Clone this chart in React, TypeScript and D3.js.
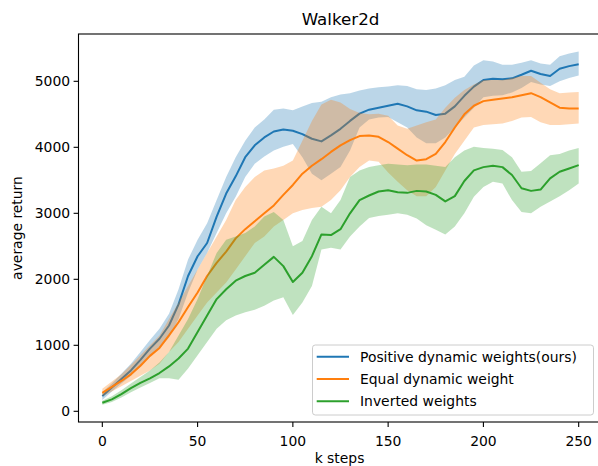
import React from 'react';
import * as d3 from 'd3';

// canvas
const width = 598;
const height = 466;

// plot box (pixels)
const plotLeft = 78.5;
const plotRight = 602.5;
const plotTop = 34;
const plotBottom = 422;

// data: k steps every 5
const steps = [
  0, 5, 10, 15, 20, 25, 30, 35, 40, 45, 50, 55, 60, 65, 70, 75, 80, 85, 90, 95,
  100, 105, 110, 115, 120, 125, 130, 135, 140, 145, 150, 155, 160, 165, 170, 175,
  180, 185, 190, 195, 200, 205, 210, 215, 220, 225, 230, 235, 240, 245, 250,
];

// Positive dynamic weights (ours)
const blueMean = [
  230, 360, 490, 620, 780, 950, 1100, 1300, 1620, 2050, 2350, 2550, 2950, 3300, 3560, 3850,
  4030, 4150, 4240, 4270, 4250, 4200, 4130, 4090, 4180, 4280, 4400, 4510, 4570, 4600, 4630,
  4660, 4620, 4560, 4540, 4490, 4510, 4620, 4780, 4920, 5020, 5040, 5030, 5045, 5100, 5160,
  5110, 5080, 5190, 5230, 5260,
];
const blueLow = [
  170, 300, 420, 540, 680, 830, 960, 1120, 1400, 1800, 2150, 2400, 2700, 3000, 3250, 3550,
  3750, 3860, 3950, 4010, 4050, 3850, 3600, 3500, 3600, 3700, 3950, 4300, 4420, 4450, 4460,
  4380, 4300, 4150, 4060, 4060, 4150, 4300, 4450, 4600, 4760, 4780, 4790, 4830, 4900, 4990,
  4950, 4930, 5000, 5050, 5090,
];
const blueHigh = [
  290, 420, 570, 720, 900, 1080, 1250, 1480, 1850, 2300, 2600, 2850, 3200, 3550, 3850, 4100,
  4300, 4420, 4570, 4590, 4560, 4620, 4670, 4690, 4760, 4800, 4820, 4860, 4890, 4910, 4920,
  4940, 4930, 4880, 4870, 4890, 4940, 5020, 5070, 5240, 5320, 5300, 5250, 5250, 5280, 5320,
  5270, 5250, 5380, 5420, 5450,
];

// Equal dynamic weight
const orangeMean = [
  280, 370, 460, 560, 690, 840, 960, 1150, 1350, 1580, 1800, 2050, 2250, 2420, 2620, 2760,
  2880, 3000, 3120, 3280, 3430, 3600, 3720, 3820, 3930, 4030, 4110, 4170, 4180, 4160, 4080,
  3980, 3880, 3800, 3820, 3900, 4080, 4300, 4500, 4630, 4700, 4720, 4740, 4760, 4790, 4820,
  4760, 4680, 4600, 4590, 4590,
];
const orangeLow = [
  230, 300, 380, 460, 540, 620, 720, 900, 1050, 1250, 1450, 1650, 1800, 1950, 2150, 2350,
  2550, 2650, 2800, 2900, 3000, 3050, 3080, 3100, 3200, 3350, 3550, 3700, 3800, 3780, 3620,
  3480, 3350, 3260, 3260, 3400, 3650, 3900, 4100, 4300, 4340, 4350, 4360, 4400, 4450, 4460,
  4380, 4340, 4340, 4350, 4360,
];
const orangeHigh = [
  340, 450, 560, 700, 850, 1000, 1150, 1400, 1650, 1900, 2150, 2400, 2650, 2900, 3200, 3400,
  3550, 3650, 3680, 3720, 3800, 4100, 4400, 4650, 4720, 4680, 4580, 4520, 4500, 4510, 4480,
  4330, 4280, 4330, 4380, 4420, 4600, 4750, 4870, 4950, 5020, 5020, 5020, 5050, 5080, 5080,
  4980, 4880, 4820, 4830, 4840,
];

// Inverted weights
const greenMean = [
  130, 180, 260, 350, 430, 500, 580, 680, 800, 950, 1200, 1450, 1700, 1850, 1980, 2050,
  2100, 2220, 2340, 2200, 1960, 2100, 2350, 2680, 2670, 2760, 3000, 3200, 3270, 3330, 3350,
  3320, 3310, 3340, 3330, 3280, 3180, 3260, 3490, 3650, 3700, 3720, 3700, 3580, 3380, 3340,
  3360, 3530, 3630, 3680, 3730,
];
const greenLow = [
  100, 140, 210, 290, 360, 430, 500, 500, 480, 650, 850, 1050, 1250, 1380, 1450, 1500,
  1540, 1600, 1680, 1730, 1460, 1650, 1900, 2450, 2480, 2450, 2650, 2800, 2930, 2960, 2980,
  3000, 2980, 2920, 2820, 2750, 2680, 2800, 3000, 3250, 3400, 3480, 3450, 3200, 3020, 3000,
  3100, 3180, 3260, 3350, 3450,
];
const greenHigh = [
  160, 230, 320, 420, 520, 620, 740, 900, 1150, 1400, 1700, 2050, 2400, 2600, 2650, 2700,
  2800, 2950, 3020, 2900, 2500, 2580, 2900, 3100, 3000, 3200, 3550, 3650, 3700, 3730, 3750,
  3740, 3730, 3740, 3740, 3720, 3700, 3850, 3950, 4010, 3990, 3980, 3960, 3850, 3630, 3640,
  3760, 3880, 3900, 3950, 3990,
];

const seriesNames = ['Positive dynamic weights(ours)', 'Equal dynamic weight', 'Inverted weights'];
const seriesColors = ['#1f77b4', '#ff7f0e', '#2ca02c'];

const xTicks = [0, 50, 100, 150, 200, 250];
const yTicks = [0, 1000, 2000, 3000, 4000, 5000];

// scales
const x = d3.scaleLinear().domain([-12.5, 262.5]).range([plotLeft, plotRight]);
const y = d3.scaleLinear().domain([-162, 5717]).range([plotBottom, plotTop]);

const font = 'DejaVu Sans, sans-serif';
const lineW = 2;

const series = [
  { mean: blueMean, low: blueLow, high: blueHigh },
  { mean: orangeMean, low: orangeLow, high: orangeHigh },
  { mean: greenMean, low: greenLow, high: greenHigh },
];

const App = () => {
  const bands = series.map((s) =>
    d3
      .area<number>()
      .x((_, i) => x(steps[i]))
      .y0((_, i) => y(s.low[i]))
      .y1((_, i) => y(s.high[i]))(steps)
  );
  const lines = series.map((s) =>
    d3
      .line<number>()
      .x((_, i) => x(steps[i]))
      .y((_, i) => y(s.mean[i]))(steps)
  );

  // legend
  const legX = 312.5;
  const legY = 345;
  const legW = 281;
  const legH = 70;
  const rowY = [356.7, 379, 401.2];

  return (
    <div style={{ position: 'absolute', left: 0, top: 0 }}>
      <svg width={width} height={height} style={{ display: 'block', background: '#fff' }}>
        <defs>
          <clipPath id="plotClip">
            <rect x={plotLeft} y={plotTop} width={plotRight - plotLeft} height={plotBottom - plotTop} />
          </clipPath>
        </defs>

        {/* bands and lines, drawn in plotting order */}
        <g clipPath="url(#plotClip)">
          {series.map((s, i) => (
            <g key={i}>
              <path d={bands[i] || ''} fill={seriesColors[i]} fillOpacity={0.3} stroke="none" />
              <path
                d={lines[i] || ''}
                fill="none"
                stroke={seriesColors[i]}
                strokeWidth={lineW}
                strokeLinejoin="round"
              />
            </g>
          ))}
        </g>

        {/* spines */}
        <rect
          x={plotLeft}
          y={plotTop}
          width={plotRight - plotLeft}
          height={plotBottom - plotTop}
          fill="none"
          stroke="#000"
          strokeWidth={1.1}
        />

        {/* x axis */}
        {xTicks.map((t) => (
          <g key={t} transform={`translate(${x(t)},${plotBottom})`}>
            <line y2={4.9} stroke="#000" strokeWidth={1.1} />
            <text y={24} textAnchor="middle" fontFamily={font} fontSize={13.9} fill="#000">
              {t}
            </text>
          </g>
        ))}

        {/* y axis */}
        {yTicks.map((t) => (
          <g key={t} transform={`translate(${plotLeft},${y(t)})`}>
            <line x2={-4.9} stroke="#000" strokeWidth={1.1} />
            <text x={-8.4} dy="0.35em" textAnchor="end" fontFamily={font} fontSize={13.9} fill="#000">
              {t}
            </text>
          </g>
        ))}

        {/* labels */}
        <text
          x={(plotLeft + plotRight) / 2}
          y={24.5}
          textAnchor="middle"
          fontFamily={font}
          fontSize={16.7}
          fill="#000"
        >
          Walker2d
        </text>
        <text x={339.5} y={462.5} textAnchor="middle" fontFamily={font} fontSize={13.9} fill="#000">
          k steps
        </text>
        <text
          transform={`translate(22,${(plotTop + plotBottom) / 2}) rotate(-90)`}
          textAnchor="middle"
          fontFamily={font}
          fontSize={13.9}
          fill="#000"
        >
          average return
        </text>

        {/* legend */}
        <rect
          x={legX}
          y={legY}
          width={legW}
          height={legH}
          rx={2.8}
          fill="#fff"
          fillOpacity={0.8}
          stroke="#cccccc"
          strokeWidth={1}
        />
        {seriesNames.map((name, i) => (
          <g key={name}>
            <line
              x1={316.7}
              x2={349}
              y1={rowY[i]}
              y2={rowY[i]}
              stroke={seriesColors[i]}
              strokeWidth={lineW}
            />
            <text x={360} y={rowY[i]} dy="0.35em" fontFamily={font} fontSize={13.9} fill="#000">
              {name}
            </text>
          </g>
        ))}
      </svg>
    </div>
  );
};

export default App;
